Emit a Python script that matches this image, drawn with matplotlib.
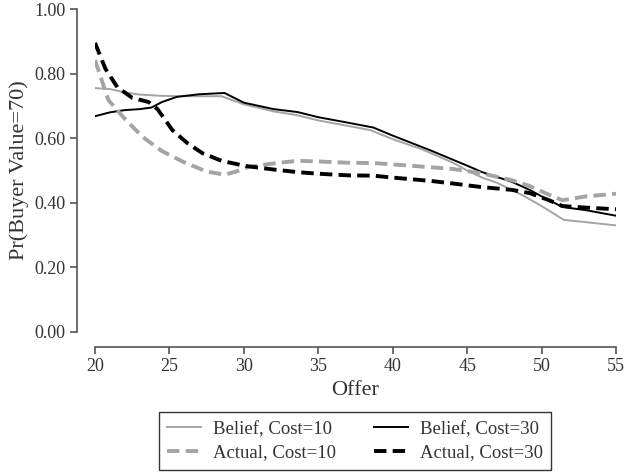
import matplotlib.pyplot as plt
import numpy as np

plt.rcParams["font.family"] = ["Liberation Serif", "DejaVu Serif"]

# Belief, Cost=10
x_b10 = [20, 21, 22, 23, 24.5, 26, 28.5, 30, 32, 33.5, 35, 37, 38.5, 40, 42, 44,
         45, 46, 47, 48.7, 50, 51.5, 53, 55]
y_b10 = [0.755, 0.752, 0.742, 0.735, 0.731, 0.730, 0.730, 0.705, 0.683, 0.672,
         0.655, 0.638, 0.625, 0.597, 0.565, 0.525, 0.500, 0.478, 0.462, 0.424,
         0.390, 0.347, 0.340, 0.330]

# Belief, Cost=30
x_b30 = [20, 21, 22, 23, 23.8, 24.5, 25.5, 27, 28.7, 30, 32, 33.6, 35, 37, 38.7,
         40, 42.5, 45, 46, 48, 49.2, 50, 51.4, 53, 55]
y_b30 = [0.668, 0.680, 0.687, 0.690, 0.695, 0.712, 0.728, 0.736, 0.740, 0.710,
         0.690, 0.681, 0.665, 0.648, 0.633, 0.608, 0.563, 0.515, 0.495, 0.465,
         0.440, 0.420, 0.387, 0.377, 0.360]

# Actual, Cost=10
x_a10 = [20, 20.9, 22, 23.2, 24.5, 26, 27.5, 28.7, 29.5, 30.3, 32, 33.6, 35, 37,
         38.7, 40, 42, 44, 45.9, 48, 49.2, 50.5, 51.4, 53, 55]
y_a10 = [0.842, 0.718, 0.660, 0.604, 0.560, 0.525, 0.497, 0.487, 0.497, 0.511,
         0.522, 0.530, 0.528, 0.524, 0.523, 0.519, 0.512, 0.505, 0.492, 0.470,
         0.452, 0.425, 0.408, 0.420, 0.428]

# Actual, Cost=30
x_a30 = [20, 20.7, 21.5, 22.5, 23.6, 24.2, 25.2, 26.2, 27.2, 28.5, 30.1, 32, 33.6,
         35, 37, 38.7, 40, 42.5, 44, 45.9, 48, 49.2, 50.5, 51.4, 53, 55]
y_a30 = [0.895, 0.815, 0.758, 0.725, 0.712, 0.690, 0.625, 0.585, 0.554, 0.530,
         0.514, 0.503, 0.495, 0.490, 0.485, 0.484, 0.478, 0.468, 0.460, 0.449,
         0.440, 0.430, 0.408, 0.390, 0.385, 0.380]

xticks = [20, 25, 30, 35, 40, 45, 50, 55]
yticks = [0.0, 0.2, 0.4, 0.6, 0.8, 1.0]

W, H = 627, 473
fig = plt.figure(figsize=(W / 100, H / 100), dpi=100)
ax = fig.add_axes([95 / W, 1 - 332 / H, (616 - 95) / W, (332 - 9) / H])

gray = "#a4a4a4"
txt = "#333333"
dash = (3.2, 1.6)

l_b10, = ax.plot(x_b10, y_b10, color=gray, lw=1.4, label="Belief, Cost=10")
l_b30, = ax.plot(x_b30, y_b30, color="black", lw=1.4, label="Belief, Cost=30")
l_a10, = ax.plot(x_a10, y_a10, color=gray, lw=2.8, dashes=dash, label="Actual, Cost=10")
l_a30, = ax.plot(x_a30, y_a30, color="black", lw=2.8, dashes=dash, label="Actual, Cost=30")

ax.set_xlim(20, 55)
ax.set_ylim(0, 1)
ax.set_xticks(xticks)
ax.set_yticks(yticks)
ax.set_yticklabels([f"{v:.2f}" for v in yticks])

for s in ["top", "right"]:
    ax.spines[s].set_visible(False)
ax.spines["left"].set_position(("outward", 13))
ax.spines["bottom"].set_position(("outward", 11))
ax.spines["left"].set_bounds(0, 1)
ax.spines["bottom"].set_bounds(20, 55)
for s in ["left", "bottom"]:
    ax.spines[s].set_color("#555555")
    ax.spines[s].set_linewidth(1.2)
ax.tick_params(direction="out", length=5, width=1.2, color="#555555",
               labelsize=13, labelcolor=txt, pad=3)

ax.set_xlabel("Offer", fontsize=16, color=txt, labelpad=4)
ax.set_ylabel("Pr(Buyer Value=70)", fontsize=16, color=txt, labelpad=4)

leg = fig.legend([l_b10, l_a10, l_b30, l_a30],
                 [l.get_label() for l in [l_b10, l_a10, l_b30, l_a30]],
                 ncol=2, loc="center", bbox_to_anchor=(355 / W, 1 - 441 / H),
                 fontsize=13.5, frameon=True, fancybox=False, edgecolor="black",
                 handlelength=1.8, handletextpad=0.65, columnspacing=2.0,
                 labelspacing=0.35, borderpad=0.45)
leg.get_frame().set_linewidth(1.0)
for t in leg.get_texts():
    t.set_color(txt)

fig.savefig("out.png", dpi=100)
